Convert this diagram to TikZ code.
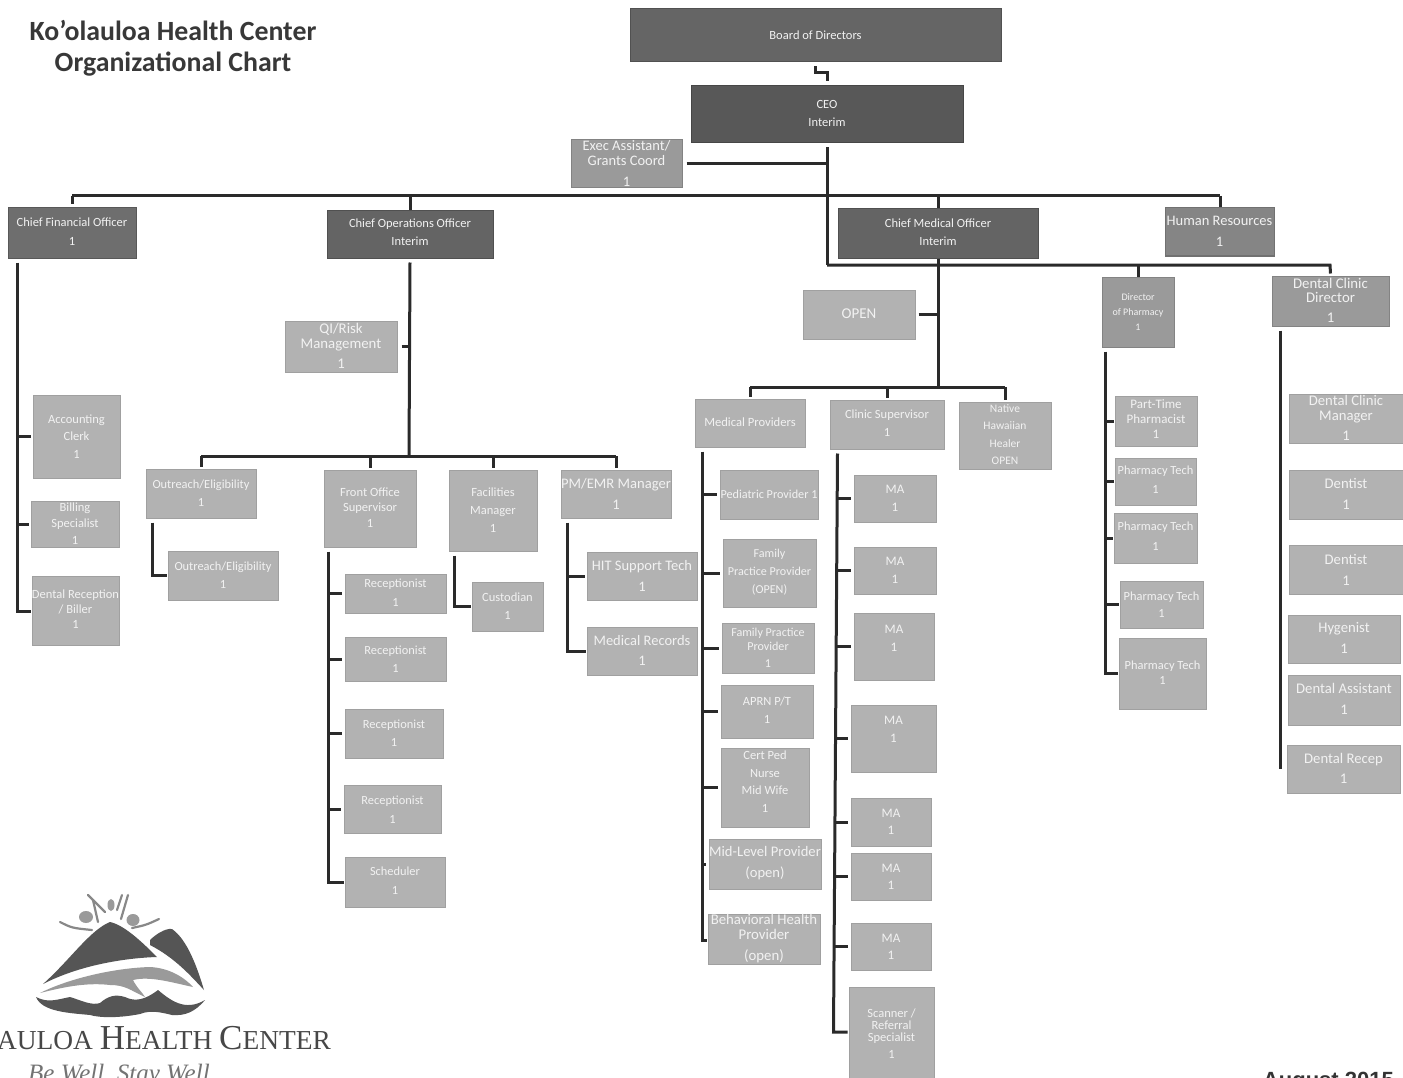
\documentclass[tikz,border=0pt]{standalone}
\usepackage{fontspec}
\setmainfont{Carlito}
\newfontfamily\logofont{Liberation Serif}
\newfontfamily\datefont{Liberation Sans}
\definecolor{cBoard}{HTML}{656565}
\definecolor{cCeo}{HTML}{585858}
\definecolor{cDark}{HTML}{646464}
\definecolor{cCfo}{HTML}{6E6E6E}
\definecolor{cHr}{HTML}{858585}
\definecolor{cMid}{HTML}{9A9A9A}
\definecolor{cLight}{HTML}{B2B2B2}
\definecolor{cText}{HTML}{F2F2F2}
\definecolor{cLine}{HTML}{2A2A2A}
\definecolor{cLogoD}{HTML}{555555}
\definecolor{cLogoG}{HTML}{9A9A9A}
\tikzset{
  boxbase/.style={rectangle,inner sep=0pt,line width=1pt},
  boxdark/.style={boxbase,fill=cDark,draw=cDark!80!black},
  boxboard/.style={boxbase,fill=cBoard,draw=cBoard!80!black},
  boxceo/.style={boxbase,fill=cCeo,draw=cCeo!80!black},
  boxcfo/.style={boxbase,fill=cCfo,draw=cCfo!80!black},
  boxhr/.style={boxbase,fill=cHr,draw=cHr!85!black},
  boxmid/.style={boxbase,fill=cMid,draw=cMid!85!black},
  boxlight/.style={boxbase,fill=cLight,draw=cLight!90!black},
  boxtext/.style={text=cText,align=center,inner sep=0pt},
  conn/.style={draw=cLine,line width=3pt,line cap=butt,line join=miter},
  logodark/.style={fill=cLogoD,draw=none},
  logogray/.style={fill=cLogoG,draw=none},
  logoray/.style={draw=cLogoD!70!white,line width=2.2pt,line cap=round}
}
% name, left, top, right, bottom, style, {size}{skip}, text shift up, text
\newcommand{\orgbox}[9]{%
  \node[#6,minimum width={(#4-#2)*1pt},minimum height={(#5-#3)*1pt},
    label={[boxtext,yshift=#8pt,font=\fontsize#7\selectfont]center:{#9}}] (#1) at ({(#2+#4)/2},{(#3+#5)/2}) {};
}
\newcommand{\fs}[2]{\fontsize{#1}{#2}\selectfont}
\begin{document}
\begin{tikzpicture}[x=1pt,y=-1pt]
\useasboundingbox (0,0) rectangle (1403,1078);
\fill[white] (0,0) rectangle (1403,1078);
% ---- title
\node[font=\fs{27.8}{31}\bfseries,text=black!78,align=center] (title) at (173,48) {Ko’olauloa Health Center\\Organizational Chart};
% ---- boxes
\orgbox{board}{630}{9}{1001}{62}{boxboard}{{12.5}{15}}{0}{Board of Directors}
\orgbox{ceo}{691}{86}{963}{143}{boxceo}{{12.5}{18}}{1.5}{CEO\\Interim}
\orgbox{exec}{571}{140}{682}{188}{boxmid}{{14.5}{15}}{1}{Exec Assistant/\\Grants Coord\\[6pt]1}
\orgbox{cfo}{8}{208}{136}{258}{boxcfo}{{12.5}{19}}{1.5}{Chief Financial Officer\\1}
\orgbox{coo}{327}{211}{493}{258}{boxdark}{{12.5}{18}}{2.5}{Chief Operations Officer\\Interim}
\orgbox{cmo}{838}{209}{1038}{258}{boxdark}{{12.5}{18}}{1.5}{Chief Medical Officer\\Interim}
\orgbox{hr}{1165}{208}{1274}{256}{boxhr}{{14.5}{21}}{0.5}{Human Resources\\1}
\orgbox{qi}{285}{321}{397}{372}{boxlight}{{14.8}{15}}{1}{QI/Risk\\Management\\[5pt]1}
\orgbox{open}{803}{290}{915}{339}{boxlight}{{15}{15}}{1}{OPEN}
\orgbox{dop}{1102}{277}{1174}{347}{boxmid}{{10}{15}}{0}{Director\\of Pharmacy\\1}
\orgbox{dcd}{1272}{276}{1389}{326}{boxmid}{{14.8}{14}}{1}{Dental Clinic\\Director\\[6pt]1}
% CFO reports
\orgbox{acct}{33}{395}{120}{478}{boxlight}{{12.5}{17.5}}{0}{Accounting\\Clerk\\1}
\orgbox{bill}{31}{501}{119}{547}{boxlight}{{12.5}{16.5}}{0.5}{Billing\\Specialist\\1}
\orgbox{drb}{32}{576}{119}{645}{boxlight}{{12.5}{15}}{1.5}{Dental Reception\\/ Biller\\1}
% COO reports
\orgbox{out}{146}{469}{256}{518}{boxlight}{{12.4}{18}}{0}{Outreach/Eligibility\\1}
\orgbox{outb}{168}{551}{278}{600}{boxlight}{{12.4}{18}}{0.5}{Outreach/Eligibility\\1}
\orgbox{fos}{324}{470}{416}{547}{boxlight}{{12.5}{15.5}}{1}{Front Office\\Supervisor\\1}
\orgbox{fac}{449}{470}{537}{551}{boxlight}{{12.5}{18}}{0.5}{Facilities\\Manager\\1}
\orgbox{pm}{561}{470}{671}{518}{boxlight}{{14.6}{21}}{0}{PM/EMR Manager\\1}
\orgbox{rec1}{345}{574}{446}{613}{boxlight}{{12.4}{19}}{1}{Receptionist\\1}
\orgbox{rec2}{345}{637}{446}{681}{boxlight}{{12.4}{18}}{0}{Receptionist\\1}
\orgbox{rec3}{345}{709}{443}{758}{boxlight}{{12.4}{18}}{0.5}{Receptionist\\1}
\orgbox{rec4}{344}{785}{441}{833}{boxlight}{{12.4}{19}}{-0.5}{Receptionist\\1}
\orgbox{sch}{345}{857}{445}{907}{boxlight}{{12.4}{19}}{1.5}{Scheduler\\1}
\orgbox{cus}{472}{582}{543}{631}{boxlight}{{12.5}{18}}{0}{Custodian\\1}
\orgbox{hit}{587}{552}{697}{600}{boxlight}{{14.5}{21}}{0.5}{HIT Support Tech\\1}
\orgbox{med}{587}{627}{697}{675}{boxlight}{{14.5}{20}}{1}{Medical Records\\1}
% CMO reports
\orgbox{mp}{695}{399}{805}{447}{boxlight}{{12.6}{15}}{1}{Medical Providers}
\orgbox{cs}{830}{400}{944}{449}{boxlight}{{12.5}{18}}{1.5}{Clinic Supervisor\\1}
\orgbox{nhh}{959}{402}{1051}{469}{boxlight}{{11.5}{17.5}}{1}{Native\\Hawaiian\\Healer\\OPEN}
\orgbox{ped}{720}{470}{818}{519}{boxlight}{{12.2}{15}}{0.5}{Pediatric Provider 1}
\orgbox{fpa}{723}{539}{816}{607}{boxlight}{{12.1}{18}}{1}{Family\\Practice Provider\\(OPEN)}
\orgbox{fpb}{722}{623}{814}{673}{boxlight}{{12.1}{14}}{0}{Family Practice\\Provider\\[3pt]1}
\orgbox{aprn}{721}{685}{813}{738}{boxlight}{{12.5}{18}}{1.5}{APRN P/T\\1}
\orgbox{cert}{721}{748}{809}{827}{boxlight}{{12.5}{17.5}}{6}{Cert Ped\\Nurse\\Mid Wife\\1}
\orgbox{mid}{709}{839}{821}{889}{boxlight}{{14.6}{21}}{0.5}{Mid-Level Provider\\(open)}
\orgbox{beh}{708}{914}{820}{964}{boxlight}{{14.8}{15}}{0}{Behavioral Health\\Provider\\[6pt](open)}
\orgbox{maa}{854}{475}{936}{522}{boxlight}{{13}{18}}{0.5}{MA\\1}
\orgbox{mab}{854}{547}{936}{594}{boxlight}{{13}{18}}{0.5}{MA\\1}
\orgbox{mac}{854}{613}{934}{680}{boxlight}{{13}{18}}{8.5}{MA\\1}
\orgbox{mad}{851}{705}{936}{772}{boxlight}{{13}{18}}{9.5}{MA\\1}
\orgbox{mae}{851}{798}{931}{846}{boxlight}{{13}{17}}{0.5}{MA\\1}
\orgbox{maf}{851}{853}{931}{900}{boxlight}{{13}{17}}{0}{MA\\1}
\orgbox{mag}{851}{923}{931}{970}{boxlight}{{13}{17}}{0}{MA\\1}
\orgbox{scan}{849}{987}{934}{1085}{boxlight}{{12.5}{12}}{2.5}{Scanner /\\Referral\\Specialist\\[5pt]1}
% Pharmacy
\orgbox{pta}{1115}{396}{1197}{446}{boxlight}{{13}{15}}{2}{Part-Time\\Pharmacist\\1}
\orgbox{pha}{1115}{458}{1196}{505}{boxlight}{{12.4}{19}}{2}{Pharmacy Tech\\1}
\orgbox{phb}{1114}{513}{1197}{563}{boxlight}{{12.4}{20}}{2}{Pharmacy Tech\\1}
\orgbox{phc}{1120}{581}{1203}{628}{boxlight}{{12.4}{17}}{0}{Pharmacy Tech\\1}
\orgbox{phd}{1119}{638}{1206}{709}{boxlight}{{12.4}{15}}{1}{Pharmacy Tech\\1}
% Dental
\orgbox{dcm}{1289}{394}{1403}{443}{boxlight}{{14.7}{15}}{1}{Dental Clinic\\Manager\\[5pt]1}
\orgbox{dena}{1289}{470}{1403}{519}{boxlight}{{14.7}{21}}{1}{Dentist\\1}
\orgbox{denb}{1289}{545}{1403}{594}{boxlight}{{14.7}{21}}{0}{Dentist\\1}
\orgbox{hyg}{1288}{615}{1400}{663}{boxlight}{{14.7}{21}}{1.5}{Hygenist\\1}
\orgbox{das}{1288}{675}{1400}{725}{boxlight}{{14.7}{21}}{1.5}{Dental Assistant\\1}
\orgbox{drc}{1287}{745}{1400}{793}{boxlight}{{14.7}{20}}{1}{Dental Recep\\1}
% ---- connectors: board and CEO
\draw[conn] ([yshift=-4pt]board.south) -- ++(0,6) -| ([yshift=4pt]ceo.north);
\coordinate (jA) at (827,196);
\coordinate (jB) at (827,265);
\draw[conn] ([yshift=-4pt]ceo.south) -- (jB);
\draw[conn] ([xshift=4pt]exec.east) -- (exec.east -| jA);
% top bus
\coordinate (busL) at (72,196);
\coordinate (busR) at (1220,196);
\draw[conn] (busL) -- (busR);
\draw[conn] (busL) -- ([yshift=3pt]busL |- cfo.north);
\draw[conn] (coo.north |- busL) -- (coo.north);
\draw[conn] (cmo.north |- busL) -- (cmo.north);
\draw[conn] (busR) -- (busR |- hr.north);
% lower CEO bus
\coordinate (busM) at (1330,265);
\draw[conn] (jB) -- (busM) -- ([yshift=2pt]dcd.north);
\draw[conn] (dop.north |- busM) -- (dop.north);
\draw[conn] (cmo.south) -- (cmo.south |- jB);
% CFO
\coordinate (tCfo) at ([xshift=10pt,yshift=-4pt]cfo.south west);
\draw[conn] (tCfo) |- ([xshift=-1pt,yshift=-1pt]drb.west);
\foreach \n in {acct,bill} \draw[conn] (tCfo |- \n.west) -- ([xshift=-2pt]\n.west);
% COO
\coordinate (busC) at (409,456);
\draw[conn] ([yshift=-4pt]coo.south) -- (busC);
\draw[conn] ([xshift=4pt]qi.east) -- (qi.east -| busC);
\draw[conn] (out.north |- busC) -- (pm.north |- busC);
\foreach \n in {out,fos,fac,pm} \draw[conn] (\n.north |- busC) -- ([yshift=2pt]\n.north);
\draw[conn] ([xshift=7pt,yshift=-4pt]out.south west) |- ([xshift=-1pt]outb.west);
\coordinate (tFos) at ([xshift=5pt,yshift=-4pt]fos.south west);
\draw[conn] (tFos) |- ([xshift=-1pt]sch.west);
\foreach \n in {rec1,rec2,rec3,rec4} \draw[conn] (tFos |- \n.west) -- ([xshift=-3pt]\n.west);
\draw[conn] ([xshift=6pt,yshift=-4pt]fac.south west) |- ([xshift=-1pt]cus.west);
\coordinate (tPm) at ([xshift=7pt,yshift=-4pt]pm.south west);
\draw[conn] (tPm) |- ([xshift=-1pt]med.west);
\draw[conn] (tPm |- hit.west) -- ([xshift=-2pt]hit.west);
% CMO
\coordinate (busD) at (938,387);
\draw[conn] ([yshift=-4pt]cmo.south) -- (busD);
\draw[conn] ([xshift=3pt]open.east) -- (open.east -| busD);
\draw[conn] (mp.north |- busD) -- (nhh.north |- busD);
\foreach \n in {mp,cs,nhh} \draw[conn] (\n.north |- busD) -- ([yshift=2pt]\n.north);
% Medical providers
\coordinate (tMp) at ([xshift=8pt,yshift=-4pt]mp.south west);
\draw[conn] (tMp) |- ([xshift=-1pt,yshift=-1pt]beh.west);
\foreach \n in {ped,fpa,fpb,aprn,cert,mid} \draw[conn] (tMp |- \n.west) -- ([xshift=-3pt]\n.west);
% Clinic supervisor
\coordinate (tCs) at ([xshift=8pt,yshift=-4pt]cs.south west);
\coordinate (tCt) at ([xshift=-4pt]tCs);
\coordinate (tCe) at ([yshift=4pt]scan.west);
\draw[conn] (tCs) -- (tCt |- tCe) -- ([xshift=-1pt]tCe);
\foreach \n in {maa,mab,mac,mad} \draw[conn] ([xshift=-1pt]tCs |- \n.west) -- ([xshift=-3pt]\n.west);
\foreach \n in {mae,maf,mag} \draw[conn] ([xshift=1pt]tCt |- \n.west) -- ([xshift=-3pt]\n.west);
% Pharmacy
\coordinate (tPh) at ([xshift=4pt,yshift=-4pt]dop.south west);
\draw[conn] (tPh) |- ([xshift=-1pt]phd.west);
\foreach \n in {pta,pha,phb,phc} \draw[conn] (tPh |- \n.west) -- ([xshift=-1pt]\n.west);
% Dental
\coordinate (tDe) at ([xshift=9pt,yshift=-4pt]dcd.south west);
\draw[conn,line width=3.6pt] (tDe) -- (tDe |- drc.west);
% ---- logo
\path[logogray] (86,917) ellipse [x radius=7,y radius=6];
\path[logogray] (133,920) ellipse [x radius=6.5,y radius=6];
\path[logogray] (111,905) ellipse [x radius=3.5,y radius=6];
\draw[logoray] (60,922) .. controls (72,928) .. (92,930);
\draw[logoray] (159,919) .. controls (146,925) .. (132,928);
\draw[logoray] (88,895) -- (105,912);
\draw[logoray] (93,900) -- (98,922);
\draw[logoray] (128,895) -- (121,919);
\draw[logoray] (122,895) -- (117,910);
\path[logodark] (43,984) .. controls (70,960) and (90,930) .. (110,922) .. controls (125,925) and (145,945) .. (157,957) .. controls (125,958) and (80,965) .. (43,984) -- cycle;
\path[logodark] (150,940) .. controls (155,935) and (165,928) .. (172,929) .. controls (188,940) and (198,970) .. (204,990) .. controls (190,975) and (175,958) .. (150,945) -- cycle;
\path[logogray] (40,993) .. controls (70,978) and (115,968) .. (150,967) .. controls (170,968) and (185,978) .. (193,987) .. controls (170,982) and (150,976) .. (133,980) .. controls (137,988) and (142,992) .. (145,997) .. controls (130,990) and (125,985) .. (110,985) .. controls (85,982) and (60,988) .. (40,993) -- cycle;
\path[logodark] (36,997) .. controls (48,1003) and (55,1000) .. (70,997) .. controls (80,1000) and (92,1006) .. (100,1003) .. controls (108,996) and (115,994) .. (125,997) .. controls (135,1002) and (145,1000) .. (158,990) .. controls (170,1000) and (185,1012) .. (205,1000) .. controls (195,1012) and (185,1016) .. (172,1015) .. controls (160,1012) and (150,1010) .. (140,1014) .. controls (120,1018) and (100,1018) .. (90,1015) .. controls (70,1013) and (42,1012) .. (36,997) -- cycle;
\node[anchor=base east,inner sep=0pt,text=black!72,font=\logofont] (logoname) at (331,1049) {\fs{27.4}{31}AULOA \fs{35}{31}H\fs{27.4}{31}EALTH \fs{35}{31}C\fs{27.4}{31}ENTER};
\node[anchor=base west,inner sep=0pt,text=black!55,font=\logofont\itshape] (logotag) at (28,1081) {\fs{25}{26}Be Well, Stay Well};
% ---- date
\node[anchor=base east,inner sep=0pt,text=black!80,font=\datefont\bfseries] (date) at (1394,1087) {\fs{22}{22}August 2015};
\end{tikzpicture}
\end{document}
